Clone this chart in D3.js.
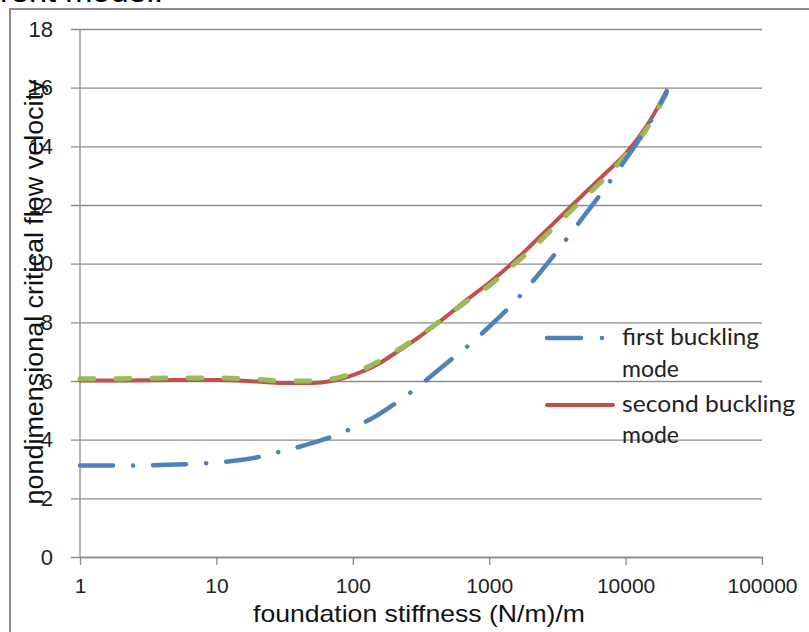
<!DOCTYPE html>
<html>
<head>
<meta charset="utf-8">
<script src="https://d3js.org/d3.v7.min.js"></script>
<style>
  html, body { margin: 0; padding: 0; background: #fff; }
  svg { display: block; }
</style>
</head>
<body>
<svg id="chart" width="809" height="632"></svg>
<script>
// ---- data ----
const stiffness = [1, 2, 5, 10, 20, 30, 50, 70, 100, 150, 200, 300, 500, 700, 1000, 1500, 2000, 3000, 5000, 7000, 10000, 15000, 20000];
const firstMode  = [3.12, 3.12, 3.15, 3.22, 3.4, 3.6, 3.88, 4.1, 4.4, 4.82, 5.2, 5.8, 6.65, 7.2, 7.85, 8.65, 9.3, 10.3, 11.65, 12.55, 13.55, 14.8, 15.85];
const secondMode = [6.02, 6.02, 6.03, 6.03, 5.98, 5.93, 5.93, 6.0, 6.2, 6.55, 6.92, 7.47, 8.25, 8.8, 9.35, 10.05, 10.6, 11.4, 12.4, 13.05, 13.75, 14.85, 15.9];
const thirdSeries = [6.08, 6.08, 6.1, 6.1, 6.06, 6.0, 6.0, 6.07, 6.27, 6.63, 6.98, 7.5, 8.25, 8.75, 9.25, 9.95, 10.45, 11.25, 12.25, 12.9, 13.7, 14.75, 15.85];
const xTicks = [1, 10, 100, 1000, 10000, 100000];
const yTicks = [0, 2, 4, 6, 8, 10, 12, 14, 16, 18];
const legendLabels = [["first buckling", "mode"], ["second buckling", "mode"]];

const colors = { blue: "#4F81BD", red: "#C0504D", green: "#9BBB59", grid: "#8c8c8c" };

const svg = d3.select("#chart");

// partial caption at top (cut off by the page edge, as in the reference)
svg.append("text").attr("x", 0).attr("y", 2)
  .attr("font-family", "Liberation Sans, Arial, sans-serif").attr("font-size", 30)
  .attr("textLength", 163).attr("lengthAdjust", "spacingAndGlyphs")
  .attr("fill", "#000").text("rent model.");

// outer frame
svg.append("path").attr("d", "M10,640 L10,9 L815,9")
  .attr("fill", "none").attr("stroke", "#8a8a8a").attr("stroke-width", 2);

const x = d3.scaleLog().domain([1, 100000]).range([80, 762]);
const y = d3.scaleLinear().domain([0, 18]).range([557, 29]);

// y axis with gridlines
const yAxis = d3.axisLeft(y).tickValues(yTicks).tickSize(-(762 - 80)).tickSizeOuter(0)
  .tickFormat(d3.format("d"));
const gy = svg.append("g").attr("transform", "translate(80,0)").call(yAxis);
gy.select(".domain").remove();
gy.selectAll(".tick line").attr("stroke", colors.grid).attr("stroke-width", 1.3).attr("x1", -9);
gy.selectAll(".tick text").attr("font-family", "Liberation Sans, Arial, sans-serif").attr("font-size", 22)
  .attr("fill", "#222").attr("x", -27);
svg.append("line").attr("x1", 80).attr("x2", 80).attr("y1", 29).attr("y2", 557)
  .attr("stroke", colors.grid).attr("stroke-width", 1.3);

// x axis
const xAxis = d3.axisBottom(x).tickValues(xTicks).tickSize(8).tickSizeOuter(0).tickPadding(13)
  .tickFormat(d3.format("d"));
const gx = svg.append("g").attr("transform", "translate(0,557)").call(xAxis);
gx.select(".domain").attr("stroke", colors.grid).attr("stroke-width", 1.3);
gx.selectAll(".tick line").attr("stroke", colors.grid).attr("stroke-width", 1.3);
gx.selectAll(".tick text").attr("font-family", "Liberation Sans, Arial, sans-serif").attr("font-size", 21)
  .attr("fill", "#222");

// axis titles
svg.append("text").attr("x", 419).attr("y", 622).attr("text-anchor", "middle")
  .attr("font-family", "Liberation Sans Narrow, Liberation Sans, Arial, sans-serif").attr("font-size", 24)
  .attr("textLength", 332).attr("lengthAdjust", "spacingAndGlyphs")
  .attr("fill", "#111").text("foundation stiffness (N/m)/m");
svg.append("text").attr("transform", "translate(43,292) rotate(-90)").attr("text-anchor", "middle")
  .attr("font-family", "Liberation Sans Narrow, Liberation Sans, Arial, sans-serif").attr("font-size", 25)
  .attr("textLength", 425).attr("lengthAdjust", "spacingAndGlyphs")
  .attr("fill", "#111").text("nondimensional critical flow velocity");

// lines
const line = d3.line().x(d => x(d[0])).y(d => y(d[1])).curve(d3.curveMonotoneX);
const pts = arr => stiffness.map((k, i) => [k, arr[i]]);

svg.append("path").datum(pts(secondMode)).attr("d", line)
  .attr("fill", "none").attr("stroke", colors.red).attr("stroke-width", 4).attr("stroke-linecap", "round");
svg.append("path").datum(pts(thirdSeries)).attr("d", line)
  .attr("fill", "none").attr("stroke", colors.green).attr("stroke-width", 5)
  .attr("stroke-dasharray", "14,22").attr("stroke-linecap", "round");
svg.append("path").datum(pts(firstMode)).attr("d", line)
  .attr("fill", "none").attr("stroke", colors.blue).attr("stroke-width", 4.5)
  .attr("stroke-dasharray", "33,20,0.1,20").attr("stroke-linecap", "round");

// legend
const lg = svg.append("g");
lg.append("line").attr("x1", 547).attr("x2", 581).attr("y1", 338).attr("y2", 338)
  .attr("stroke", colors.blue).attr("stroke-width", 4.5).attr("stroke-linecap", "round");
lg.append("circle").attr("cx", 602).attr("cy", 338).attr("r", 2.3).attr("fill", colors.blue);
lg.append("line").attr("x1", 547).attr("x2", 613).attr("y1", 405).attr("y2", 405)
  .attr("stroke", colors.red).attr("stroke-width", 4).attr("stroke-linecap", "round");
const baseY = [[345, 377], [412, 443]];
const widths = [137, 173];
legendLabels.forEach((lines, i) => {
  lines.forEach((t, j) => {
    const tx = lg.append("text").attr("x", 622).attr("y", baseY[i][j])
      .attr("font-family", "Lato, Carlito, Calibri, sans-serif").attr("font-size", 23)
      .attr("fill", "#222").text(t);
    if (j === 0) tx.attr("textLength", widths[i]).attr("lengthAdjust", "spacingAndGlyphs");
  });
});
</script>
</body>
</html>
